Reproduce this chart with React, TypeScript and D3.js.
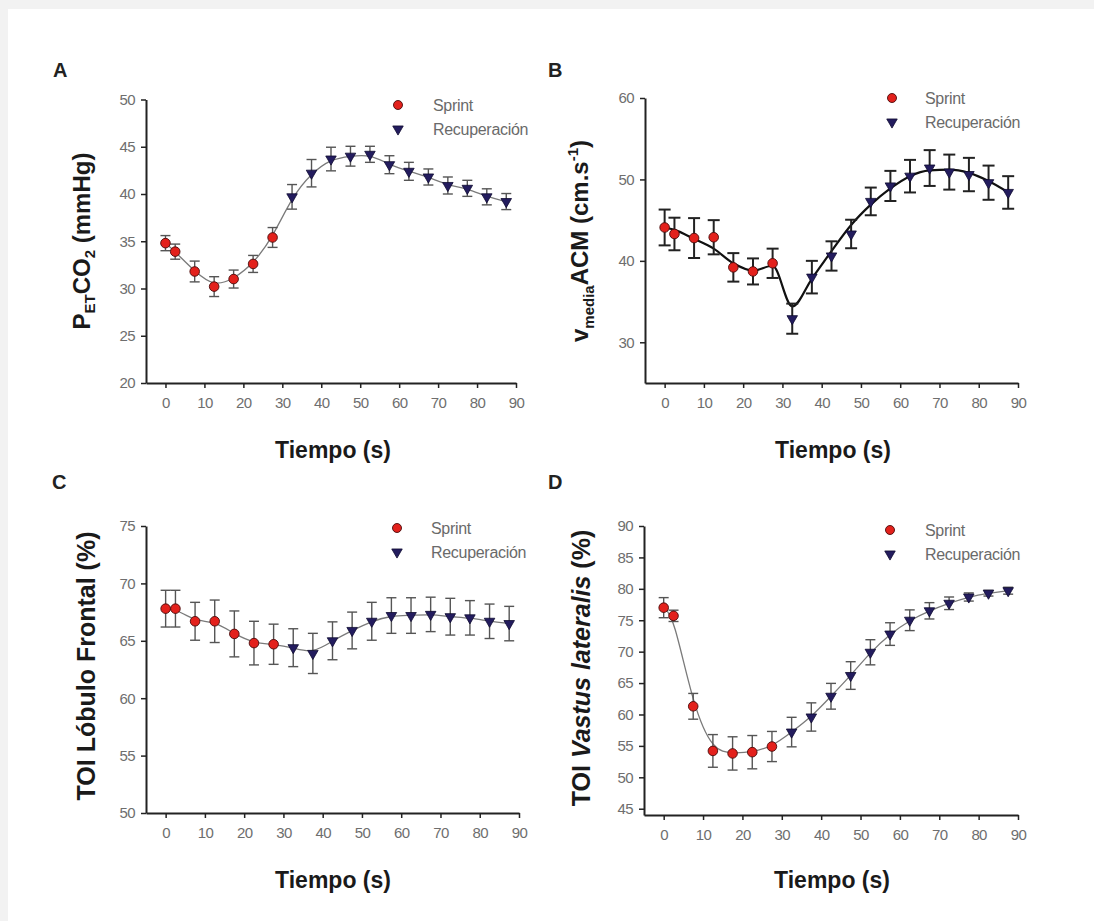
import React, { useEffect, useRef } from "react";
import * as d3 from "d3";

// time points (s)
const tSprint = [0, 2.5, 7.5, 12.5, 17.5, 22.5, 27.5];
const tRecup = [32.5, 37.5, 42.5, 47.5, 52.5, 57.5, 62.5, 67.5, 72.5, 77.5, 82.5, 87.5];
const xTicks = [0, 10, 20, 30, 40, 50, 60, 70, 80, 90];
const legendLabels = ["Sprint", "Recuperación"];

// A - PETCO2
const petSprint = [34.8, 33.9, 31.8, 30.2, 31.0, 32.6, 35.4];
const petSprintErr = [0.8, 0.8, 1.1, 1.05, 0.95, 0.9, 1.05];
const petRecup = [39.7, 42.2, 43.7, 44.0, 44.2, 43.1, 42.4, 41.8, 40.9, 40.6, 39.7, 39.2];
const petRecupErr = [1.3, 1.45, 1.25, 1.05, 0.85, 0.95, 0.95, 0.85, 0.9, 0.85, 0.85, 0.85];
const petTicks = [20, 25, 30, 35, 40, 45, 50];

// B - vmedia ACM
const vmSprint = [44.1, 43.3, 42.8, 42.9, 39.2, 38.7, 39.7];
const vmSprintErr = [2.2, 2.0, 2.45, 2.1, 1.75, 1.6, 1.8];
const vmRecup = [32.9, 38.0, 40.6, 43.3, 47.3, 49.2, 50.4, 51.4, 50.9, 50.6, 49.6, 48.4];
const vmRecupErr = [1.85, 2.0, 1.8, 1.75, 1.7, 1.85, 2.0, 2.2, 2.15, 2.05, 2.1, 2.0];
// fitted line (sprint + recovery time points)
const vmFit = [44.1, 43.8, 42.7, 41.5, 39.7, 38.8, 39.4, 34.4, 37.8, 41.2, 44.4, 46.9, 48.9, 50.4, 51.1, 51.2, 50.8, 49.8, 48.4];
const vmTicks = [30, 40, 50, 60];

// C - TOI lobulo frontal
const tofSprint = [67.8, 67.8, 66.7, 66.7, 65.6, 64.8, 64.7];
const tofSprintErr = [1.6, 1.6, 1.65, 1.85, 2.0, 1.9, 1.75];
const tofRecup = [64.4, 63.9, 65.0, 65.9, 66.7, 67.2, 67.2, 67.3, 67.1, 67.0, 66.7, 66.5];
const tofRecupErr = [1.65, 1.75, 1.65, 1.6, 1.65, 1.55, 1.55, 1.5, 1.6, 1.5, 1.5, 1.5];
const tofTicks = [50, 55, 60, 65, 70, 75];

// D - TOI vastus lateralis
const tvlSprint = [77.0, 75.7, 61.3, 54.2, 53.8, 54.0, 54.9];
const tvlSprintErr = [1.6, 0.9, 2.05, 2.6, 2.65, 2.65, 2.4];
const tvlRecup = [57.2, 59.6, 62.9, 66.2, 69.9, 72.8, 75.0, 76.5, 77.7, 78.7, 79.3, 79.7];
const tvlRecupErr = [2.35, 2.25, 2.05, 2.2, 2.0, 1.8, 1.65, 1.3, 1.0, 0.65, 0.45, 0.55];
const tvlTicks = [45, 50, 55, 60, 65, 70, 75, 80, 85, 90];

const FONT = "'Liberation Sans', Arial, sans-serif";

const panels = [
  {
    letter: "A", lx: 53, ly: 77,
    left: 146, right: 516, top: 99.5, bottom: 383, yDomain: [20, 50], yTicks: petTicks,
    sprint: petSprint, sprintErr: petSprintErr, recup: petRecup, recupErr: petRecupErr,
    legend: [398, 105, 433], dark: false,
    title: [333, 458], ylab: [90, 241], ylabKind: "pet",
  },
  {
    letter: "B", lx: 548, ly: 77,
    left: 645, right: 1018, top: 98, bottom: 383, yDomain: [25, 60], yTicks: vmTicks,
    sprint: vmSprint, sprintErr: vmSprintErr, recup: vmRecup, recupErr: vmRecupErr,
    fit: vmFit,
    legend: [892, 98, 925], dark: true,
    title: [833, 458], ylab: [588, 241], ylabKind: "vm",
  },
  {
    letter: "C", lx: 52, ly: 489,
    left: 146, right: 519, top: 526, bottom: 813, yDomain: [50, 75], yTicks: tofTicks,
    sprint: tofSprint, sprintErr: tofSprintErr, recup: tofRecup, recupErr: tofRecupErr,
    legend: [397, 528, 431], dark: false,
    title: [333, 888], ylab: [95, 666], ylabKind: "tof",
  },
  {
    letter: "D", lx: 548, ly: 489,
    left: 644, right: 1018, top: 526, bottom: 815, yDomain: [44, 90], yTicks: tvlTicks,
    sprint: tvlSprint, sprintErr: tvlSprintErr, recup: tvlRecup, recupErr: tvlRecupErr,
    legend: [890, 530, 925], dark: false,
    title: [832, 888], ylab: [590, 668], ylabKind: "tvl",
  },
];

const drawPanel = (svg, p) => {
  const g = svg.append("g");
  const x = d3.scaleLinear().domain([-5, 90]).range([p.left, p.right]);
  const y = d3.scaleLinear().domain(p.yDomain).range([p.bottom, p.top]);

  const lineColor = p.dark ? "#111" : "#7a7a7a";
  const errColor = p.dark ? "#222" : "#555";
  const errW = p.dark ? 2 : 1.4;
  const cap = p.dark ? 6 : 5;

  // axes
  const xa = g.append("g").attr("transform", `translate(0,${p.bottom})`)
    .call(d3.axisBottom(x).tickValues(xTicks).tickSize(5).tickSizeOuter(0).tickPadding(9));
  const ya = g.append("g").attr("transform", `translate(${p.left},0)`)
    .call(d3.axisLeft(y).tickValues(p.yTicks).tickSize(5).tickSizeOuter(0).tickPadding(6));
  [xa, ya].forEach(a => {
    a.select(".domain").attr("stroke", "#222").attr("stroke-width", 2);
    a.selectAll(".tick line").attr("stroke", "#222").attr("stroke-width", 1.5);
    a.selectAll(".tick text").attr("fill", "#6e6e6e").attr("font-size", 15)
      .attr("font-family", FONT).attr("letter-spacing", -0.6);
  });

  // fit curve
  const allT = tSprint.concat(tRecup);
  const allV = p.fit ? p.fit : p.sprint.concat(p.recup);
  const line = d3.line().x(d => x(d[0])).y(d => y(d[1]))
    .curve(p.fit ? d3.curveMonotoneX : d3.curveBasis);
  g.append("path")
    .attr("d", line(allT.map((t, i) => [t, allV[i]])))
    .attr("fill", "none").attr("stroke", lineColor).attr("stroke-width", p.dark ? 2.2 : 1.3);

  // error bars
  const bars = tSprint.map((t, i) => [t, p.sprint[i], p.sprintErr[i]])
    .concat(tRecup.map((t, i) => [t, p.recup[i], p.recupErr[i]]));
  const eb = g.append("g").attr("stroke", errColor).attr("stroke-width", errW);
  bars.forEach(([t, v, e]) => {
    const cx = x(t);
    eb.append("line").attr("x1", cx).attr("x2", cx).attr("y1", y(v - e)).attr("y2", y(v + e));
    eb.append("line").attr("x1", cx - cap).attr("x2", cx + cap).attr("y1", y(v - e)).attr("y2", y(v - e));
    eb.append("line").attr("x1", cx - cap).attr("x2", cx + cap).attr("y1", y(v + e)).attr("y2", y(v + e));
  });

  // markers
  const tri = d3.symbol().type(d3.symbolTriangle).size(48);
  g.selectAll(".sp").data(tSprint.map((t, i) => [t, p.sprint[i]])).join("circle")
    .attr("cx", d => x(d[0])).attr("cy", d => y(d[1])).attr("r", 4.8)
    .attr("fill", "#e3211c").attr("stroke", "#4a0a0a").attr("stroke-width", 0.9);
  g.selectAll(".rc").data(tRecup.map((t, i) => [t, p.recup[i]])).join("path")
    .attr("d", tri).attr("transform", d => `translate(${x(d[0])},${y(d[1])}) rotate(180)`)
    .attr("fill", "#231c5e").attr("stroke", "#0e0a30").attr("stroke-width", 0.8);

  // legend
  const [mx, my, tx] = p.legend;
  g.append("circle").attr("cx", mx).attr("cy", my).attr("r", 4.5)
    .attr("fill", "#e3211c").attr("stroke", "#4a0a0a").attr("stroke-width", 0.9);
  g.append("path").attr("d", tri).attr("transform", `translate(${mx},${my + 24}) rotate(180)`)
    .attr("fill", "#231c5e").attr("stroke", "#0e0a30").attr("stroke-width", 0.8);
  legendLabels.forEach((lab, i) => {
    g.append("text").attr("x", tx).attr("y", my + 24 * i + 5.5).text(lab)
      .attr("font-family", FONT).attr("font-size", 16).attr("fill", "#6a6a6a")
      .attr("letter-spacing", -0.3);
  });

  // panel letter
  g.append("text").attr("x", p.lx).attr("y", p.ly).text(p.letter)
    .attr("font-family", FONT).attr("font-weight", "bold").attr("font-size", 20).attr("fill", "#222");

  // x title
  g.append("text").attr("x", p.title[0]).attr("y", p.title[1]).attr("text-anchor", "middle")
    .text("Tiempo (s)").attr("font-family", FONT).attr("font-weight", "bold")
    .attr("font-size", 23).attr("fill", "#1a1a1a");

  // y title
  const yl = g.append("text")
    .attr("transform", `translate(${p.ylab[0]},${p.ylab[1]}) rotate(-90)`)
    .attr("text-anchor", "middle").attr("font-family", FONT).attr("font-weight", "bold")
    .attr("fill", "#1a1a1a");
  if (p.ylabKind === "pet") {
    yl.attr("font-size", 24);
    yl.append("tspan").text("P");
    yl.append("tspan").attr("font-size", 15).attr("dy", 5).text("ET");
    yl.append("tspan").attr("dy", -5).text("CO");
    yl.append("tspan").attr("font-size", 15).attr("dy", 5).text("2");
    yl.append("tspan").attr("dy", -5).text(" (mmHg)");
  } else if (p.ylabKind === "vm") {
    yl.attr("font-size", 24);
    yl.append("tspan").text("v");
    yl.append("tspan").attr("font-size", 15).attr("dy", 6).text("media");
    yl.append("tspan").attr("dy", -6).text("ACM (cm.s");
    yl.append("tspan").attr("font-size", 15).attr("dy", -10).text("-1");
    yl.append("tspan").attr("dy", 10).text(")");
  } else if (p.ylabKind === "tof") {
    yl.attr("font-size", 25).text("TOI Lóbulo Frontal (%)");
  } else {
    yl.attr("font-size", 25);
    yl.append("tspan").text("TOI ");
    yl.append("tspan").attr("font-style", "italic").text("Vastus lateralis");
    yl.append("tspan").text(" (%)");
  }
};

const App = () => {
  const ref = useRef(null);
  useEffect(() => {
    const svg = d3.select(ref.current);
    svg.selectAll("*").remove();
    svg.append("rect").attr("width", 1094).attr("height", 921).attr("fill", "#f2f2f2");
    svg.append("rect").attr("x", 8).attr("y", 9).attr("width", 1086).attr("height", 912).attr("fill", "#ffffff");
    panels.forEach(p => drawPanel(svg, p));
  }, []);
  return (
    <svg ref={ref} width={1094} height={921}
      style={{ position: "absolute", left: 0, top: 0, display: "block" }} />
  );
};

export default App;
